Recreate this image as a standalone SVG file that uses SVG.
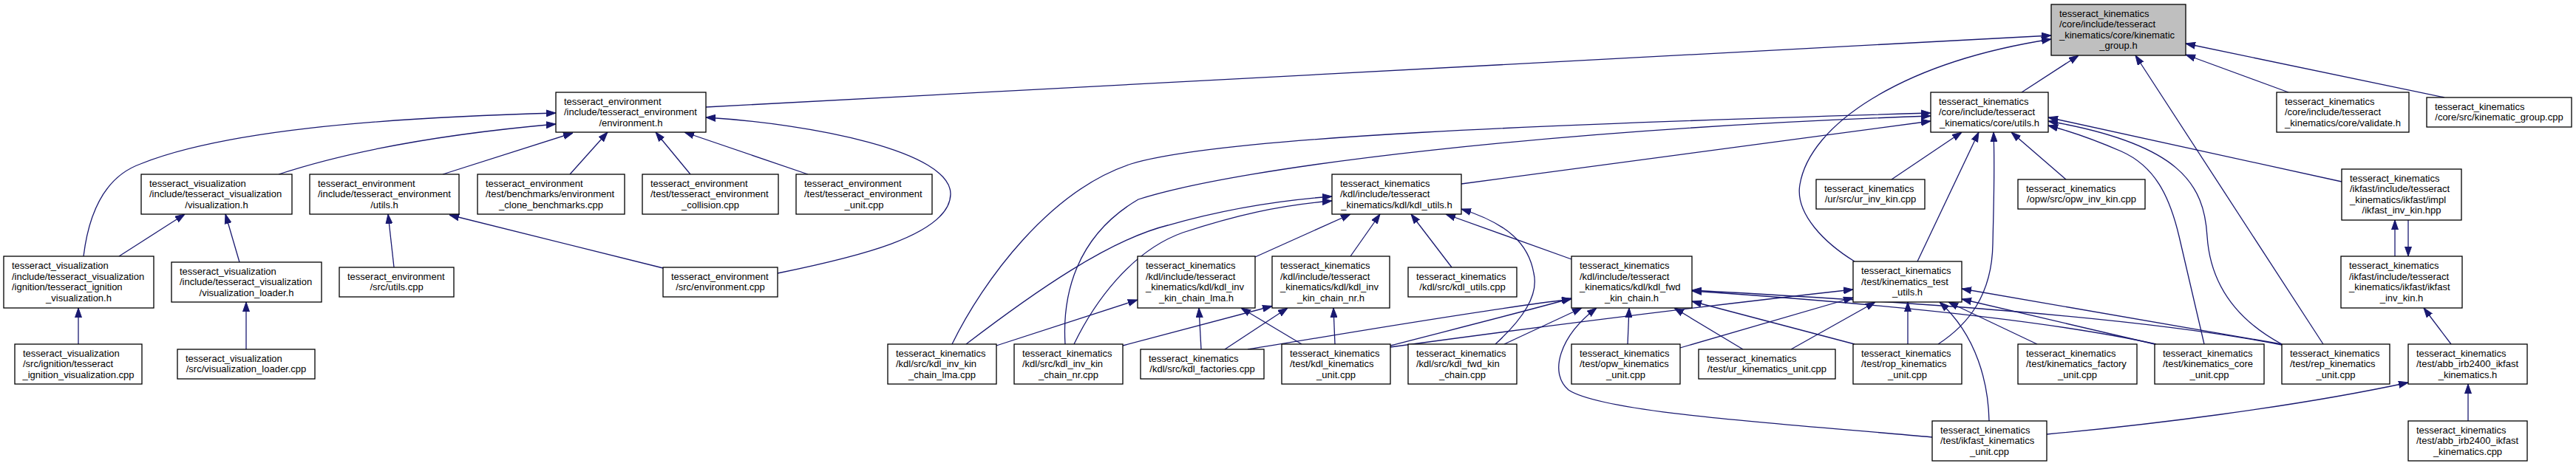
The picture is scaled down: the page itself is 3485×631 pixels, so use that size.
<svg xmlns="http://www.w3.org/2000/svg" width="3485" height="631" viewBox="0 0 3485 631">
<style>
.n rect{fill:#ffffff;stroke:#000000;stroke-width:1.3}
.n.g rect{fill:#bfbfbf}
text{font-family:"Liberation Sans",Arial,Helvetica,sans-serif;font-size:13px;fill:#000000}
.m{text-anchor:middle}
.e path{fill:none;stroke:#191970;stroke-width:1.3;marker-end:url(#a)}
</style>
<defs>
<marker id="a" markerWidth="13" markerHeight="10" refX="13" refY="5" orient="auto" markerUnits="userSpaceOnUse">
<path d="M0,0.5 L13,5 L0,9.5 Z" fill="#191970" stroke="#191970" stroke-width="1"/>
</marker>
</defs>
<rect x="0" y="0" width="3485" height="631" fill="#ffffff"/>
<g id="connectors" class="e">
<path d="M955,145 L2775,48"/>
<path d="M2509,354 C2470,330 2428,290 2435,250 C2448,170 2570,85 2775,53"/>
<path d="M2735,125 L2812,75"/>
<path d="M3143,466 L2889,75"/>
<path d="M3096,125 L2957,74"/>
<path d="M3307,132 L2957,59"/>
<path d="M113,347 C120,290 140,240 190,222 C300,178 500,160 752,153"/>
<path d="M377,236 C450,212 560,185 752,168"/>
<path d="M599,236 L775,180"/>
<path d="M771,236 L822,179"/>
<path d="M934,236 L887,179"/>
<path d="M1093,236 L926,179"/>
<path d="M1052,370 C1150,350 1285,320 1286,263 C1287,205 1100,168 955,159"/>
<path d="M161,347 L250,290"/>
<path d="M324,355 L305,290"/>
<path d="M533,362 L525,290"/>
<path d="M897,363 L608,291"/>
<path d="M106,466 L106,417"/>
<path d="M333,473 L333,409"/>
<path d="M1288,466 C1330,380 1420,258 1530,222 C1650,185 2100,168 2612,153"/>
<path d="M1441,466 C1437,400 1455,320 1540,270 C1680,225 2100,175 2612,157"/>
<path d="M1977,249 L2612,164"/>
<path d="M2559,243 L2654,179"/>
<path d="M2594,354 L2677,179"/>
<path d="M2622,466 C2662,440 2695,400 2696,330 C2697,280 2699,230 2697,179"/>
<path d="M2795,243 L2721,179"/>
<path d="M3168,246 L2771,159"/>
<path d="M3087,466 C3020,430 2990,380 2986,320 C2982,250 2950,195 2771,164"/>
<path d="M2982,466 L2948,320 C2935,265 2915,225 2870,205 C2840,192 2810,180 2771,170"/>
<path d="M1307,466 C1400,395 1500,325 1580,305 C1650,285 1720,272 1802,266"/>
<path d="M1453,466 C1480,410 1530,340 1600,315 C1670,292 1730,278 1802,272"/>
<path d="M1698,348 L1827,290"/>
<path d="M1827,347 L1867,290"/>
<path d="M1964,362 L1909,290"/>
<path d="M2126,351 L1956,290"/>
<path d="M2023,466 C2060,432 2082,400 2075,370 C2068,330 2040,303 1977,283"/>
<path d="M1348,468 L1539,406"/>
<path d="M1625,473 L1622,417"/>
<path d="M1761,466 L1679,417"/>
<path d="M1519,468 L1721,414.5"/>
<path d="M1657,473 L1742,417"/>
<path d="M1806,466 L1804,417"/>
<path d="M1688,473 C1800,455 2000,420 2126,405"/>
<path d="M1881,468 C1950,450 2050,425 2126,404"/>
<path d="M2035,466 L2140,417"/>
<path d="M2614,592 C2430,575 2170,560 2122,528 C2095,505 2110,455 2160,417"/>
<path d="M2202,466 L2204,417"/>
<path d="M2358,473 L2265,417"/>
<path d="M2509,466 L2289,408"/>
<path d="M3087,467 C2900,430 2600,410 2289,393"/>
<path d="M2917,466 C2800,440 2600,415 2289,394"/>
<path d="M1881,470 C2100,440 2300,415 2507,392"/>
<path d="M2273,471 L2507,403"/>
<path d="M2423,473 L2537,409"/>
<path d="M2581,466 L2581,409"/>
<path d="M2691,570 C2690,520 2675,455 2624,409"/>
<path d="M2756,466 L2636,409"/>
<path d="M3087,466 L2654,391"/>
<path d="M2915,466 L2654,405"/>
<path d="M2769,588 C2900,576 3100,552 3258,518"/>
<path d="M3339,570 L3339,520"/>
<path d="M3316,466 L3279,417"/>
<path d="M3240,347 L3240,298"/>
<path d="M3258,298 L3258,347"/>
</g>
<g id="n1" class="n g"><rect x="2775" y="6" width="182" height="69"/><text x="2786" y="22.75">tesseract_kinematics</text><text x="2786" y="37.25">/core/include/tesseract</text><text x="2786" y="51.75">_kinematics/core/kinematic</text><text class="m" x="2866" y="66.25">_group.h</text></g>
<g id="n2" class="n"><rect x="752" y="125" width="203" height="54"/><text x="763" y="141.5">tesseract_environment</text><text x="763" y="156">/include/tesseract_environment</text><text class="m" x="853.5" y="170.5">/environment.h</text></g>
<g id="n3" class="n"><rect x="2612" y="125" width="159" height="54"/><text x="2623" y="141.5">tesseract_kinematics</text><text x="2623" y="156">/core/include/tesseract</text><text class="m" x="2691.5" y="170.5">_kinematics/core/utils.h</text></g>
<g id="n4" class="n"><rect x="3080" y="125" width="179" height="54"/><text x="3091" y="141.5">tesseract_kinematics</text><text x="3091" y="156">/core/include/tesseract</text><text class="m" x="3169.5" y="170.5">_kinematics/core/validate.h</text></g>
<g id="n5" class="n"><rect x="3283" y="132" width="196" height="40"/><text x="3294" y="148.75">tesseract_kinematics</text><text class="m" x="3381" y="163.25">/core/src/kinematic_group.cpp</text></g>
<g id="n6" class="n"><rect x="191" y="236" width="204" height="54"/><text x="202" y="252.5">tesseract_visualization</text><text x="202" y="267">/include/tesseract_visualization</text><text class="m" x="293" y="281.5">/visualization.h</text></g>
<g id="n7" class="n"><rect x="419" y="236" width="202" height="54"/><text x="430" y="252.5">tesseract_environment</text><text x="430" y="267">/include/tesseract_environment</text><text class="m" x="520" y="281.5">/utils.h</text></g>
<g id="n8" class="n"><rect x="646" y="236" width="199" height="54"/><text x="657" y="252.5">tesseract_environment</text><text x="657" y="267">/test/benchmarks/environment</text><text class="m" x="745.5" y="281.5">_clone_benchmarks.cpp</text></g>
<g id="n9" class="n"><rect x="869" y="236" width="184" height="54"/><text x="880" y="252.5">tesseract_environment</text><text x="880" y="267">/test/tesseract_environment</text><text class="m" x="961" y="281.5">_collision.cpp</text></g>
<g id="n10" class="n"><rect x="1077" y="236" width="184" height="54"/><text x="1088" y="252.5">tesseract_environment</text><text x="1088" y="267">/test/tesseract_environment</text><text class="m" x="1169" y="281.5">_unit.cpp</text></g>
<g id="n11" class="n"><rect x="5" y="347" width="203" height="70"/><text x="16" y="364.25">tesseract_visualization</text><text x="16" y="378.75">/include/tesseract_visualization</text><text x="16" y="393.25">/ignition/tesseract_ignition</text><text class="m" x="106.5" y="407.75">_visualization.h</text></g>
<g id="n12" class="n"><rect x="20" y="466" width="172" height="54"/><text x="31" y="482.5">tesseract_visualization</text><text x="31" y="497">/src/ignition/tesseract</text><text class="m" x="106" y="511.5">_ignition_visualization.cpp</text></g>
<g id="n13" class="n"><rect x="232" y="355" width="203" height="54"/><text x="243" y="371.5">tesseract_visualization</text><text x="243" y="386">/include/tesseract_visualization</text><text class="m" x="333.5" y="400.5">/visualization_loader.h</text></g>
<g id="n14" class="n"><rect x="240" y="473" width="186" height="40"/><text x="251" y="489.75">tesseract_visualization</text><text class="m" x="333" y="504.25">/src/visualization_loader.cpp</text></g>
<g id="n15" class="n"><rect x="459" y="362" width="155" height="40"/><text x="470" y="378.75">tesseract_environment</text><text class="m" x="536.5" y="393.25">/src/utils.cpp</text></g>
<g id="n16" class="n"><rect x="897" y="362" width="155" height="40"/><text x="908" y="378.75">tesseract_environment</text><text class="m" x="974.5" y="393.25">/src/environment.cpp</text></g>
<g id="n17" class="n"><rect x="1802" y="236" width="175" height="54"/><text x="1813" y="252.5">tesseract_kinematics</text><text x="1813" y="267">/kdl/include/tesseract</text><text class="m" x="1889.5" y="281.5">_kinematics/kdl/kdl_utils.h</text></g>
<g id="n18" class="n"><rect x="2457" y="243" width="147" height="40"/><text x="2468" y="259.75">tesseract_kinematics</text><text class="m" x="2530.5" y="274.25">/ur/src/ur_inv_kin.cpp</text></g>
<g id="n19" class="n"><rect x="2730" y="243" width="172" height="40"/><text x="2741" y="259.75">tesseract_kinematics</text><text class="m" x="2816" y="274.25">/opw/src/opw_inv_kin.cpp</text></g>
<g id="n20" class="n"><rect x="3168" y="229" width="162" height="69"/><text x="3179" y="245.75">tesseract_kinematics</text><text x="3179" y="260.25">/ikfast/include/tesseract</text><text x="3179" y="274.75">_kinematics/ikfast/impl</text><text class="m" x="3249" y="289.25">/ikfast_inv_kin.hpp</text></g>
<g id="n21" class="n"><rect x="1539" y="347" width="159" height="70"/><text x="1550" y="364.25">tesseract_kinematics</text><text x="1550" y="378.75">/kdl/include/tesseract</text><text x="1550" y="393.25">_kinematics/kdl/kdl_inv</text><text class="m" x="1618.5" y="407.75">_kin_chain_lma.h</text></g>
<g id="n22" class="n"><rect x="1721" y="347" width="159" height="70"/><text x="1732" y="364.25">tesseract_kinematics</text><text x="1732" y="378.75">/kdl/include/tesseract</text><text x="1732" y="393.25">_kinematics/kdl/kdl_inv</text><text class="m" x="1800.5" y="407.75">_kin_chain_nr.h</text></g>
<g id="n23" class="n"><rect x="1905" y="362" width="147" height="40"/><text x="1916" y="378.75">tesseract_kinematics</text><text class="m" x="1978.5" y="393.25">/kdl/src/kdl_utils.cpp</text></g>
<g id="n24" class="n"><rect x="2126" y="347" width="163" height="70"/><text x="2137" y="364.25">tesseract_kinematics</text><text x="2137" y="378.75">/kdl/include/tesseract</text><text x="2137" y="393.25">_kinematics/kdl/kdl_fwd</text><text class="m" x="2207.5" y="407.75">_kin_chain.h</text></g>
<g id="n25" class="n"><rect x="2507" y="354" width="147" height="55"/><text x="2518" y="371">tesseract_kinematics</text><text x="2518" y="385.5">/test/kinematics_test</text><text class="m" x="2580.5" y="400">_utils.h</text></g>
<g id="n26" class="n"><rect x="3167" y="347" width="164" height="70"/><text x="3178" y="364.25">tesseract_kinematics</text><text x="3178" y="378.75">/ikfast/include/tesseract</text><text x="3178" y="393.25">_kinematics/ikfast/ikfast</text><text class="m" x="3249" y="407.75">_inv_kin.h</text></g>
<g id="n27" class="n"><rect x="1201" y="466" width="147" height="54"/><text x="1212" y="482.5">tesseract_kinematics</text><text x="1212" y="497">/kdl/src/kdl_inv_kin</text><text class="m" x="1274.5" y="511.5">_chain_lma.cpp</text></g>
<g id="n28" class="n"><rect x="1372" y="466" width="147" height="54"/><text x="1383" y="482.5">tesseract_kinematics</text><text x="1383" y="497">/kdl/src/kdl_inv_kin</text><text class="m" x="1445.5" y="511.5">_chain_nr.cpp</text></g>
<g id="n29" class="n"><rect x="1543" y="473" width="167" height="40"/><text x="1554" y="489.75">tesseract_kinematics</text><text class="m" x="1626.5" y="504.25">/kdl/src/kdl_factories.cpp</text></g>
<g id="n30" class="n"><rect x="1734" y="466" width="147" height="54"/><text x="1745" y="482.5">tesseract_kinematics</text><text x="1745" y="497">/test/kdl_kinematics</text><text class="m" x="1807.5" y="511.5">_unit.cpp</text></g>
<g id="n31" class="n"><rect x="1905" y="466" width="147" height="54"/><text x="1916" y="482.5">tesseract_kinematics</text><text x="1916" y="497">/kdl/src/kdl_fwd_kin</text><text class="m" x="1978.5" y="511.5">_chain.cpp</text></g>
<g id="n32" class="n"><rect x="2126" y="466" width="147" height="54"/><text x="2137" y="482.5">tesseract_kinematics</text><text x="2137" y="497">/test/opw_kinematics</text><text class="m" x="2199.5" y="511.5">_unit.cpp</text></g>
<g id="n33" class="n"><rect x="2298" y="473" width="185" height="40"/><text x="2309" y="489.75">tesseract_kinematics</text><text class="m" x="2390.5" y="504.25">/test/ur_kinematics_unit.cpp</text></g>
<g id="n34" class="n"><rect x="2507" y="466" width="147" height="54"/><text x="2518" y="482.5">tesseract_kinematics</text><text x="2518" y="497">/test/rop_kinematics</text><text class="m" x="2580.5" y="511.5">_unit.cpp</text></g>
<g id="n35" class="n"><rect x="2730" y="466" width="161" height="54"/><text x="2741" y="482.5">tesseract_kinematics</text><text x="2741" y="497">/test/kinematics_factory</text><text class="m" x="2810.5" y="511.5">_unit.cpp</text></g>
<g id="n36" class="n"><rect x="2915" y="466" width="148" height="54"/><text x="2926" y="482.5">tesseract_kinematics</text><text x="2926" y="497">/test/kinematics_core</text><text class="m" x="2989" y="511.5">_unit.cpp</text></g>
<g id="n37" class="n"><rect x="3087" y="466" width="146" height="54"/><text x="3098" y="482.5">tesseract_kinematics</text><text x="3098" y="497">/test/rep_kinematics</text><text class="m" x="3160" y="511.5">_unit.cpp</text></g>
<g id="n38" class="n"><rect x="3258" y="466" width="161" height="54"/><text x="3269" y="482.5">tesseract_kinematics</text><text x="3269" y="497">/test/abb_irb2400_ikfast</text><text class="m" x="3338.5" y="511.5">_kinematics.h</text></g>
<g id="n39" class="n"><rect x="2614" y="570" width="155" height="54"/><text x="2625" y="586.5">tesseract_kinematics</text><text x="2625" y="601">/test/ikfast_kinematics</text><text class="m" x="2691.5" y="615.5">_unit.cpp</text></g>
<g id="n40" class="n"><rect x="3258" y="570" width="161" height="54"/><text x="3269" y="586.5">tesseract_kinematics</text><text x="3269" y="601">/test/abb_irb2400_ikfast</text><text class="m" x="3338.5" y="615.5">_kinematics.cpp</text></g>
</svg>
